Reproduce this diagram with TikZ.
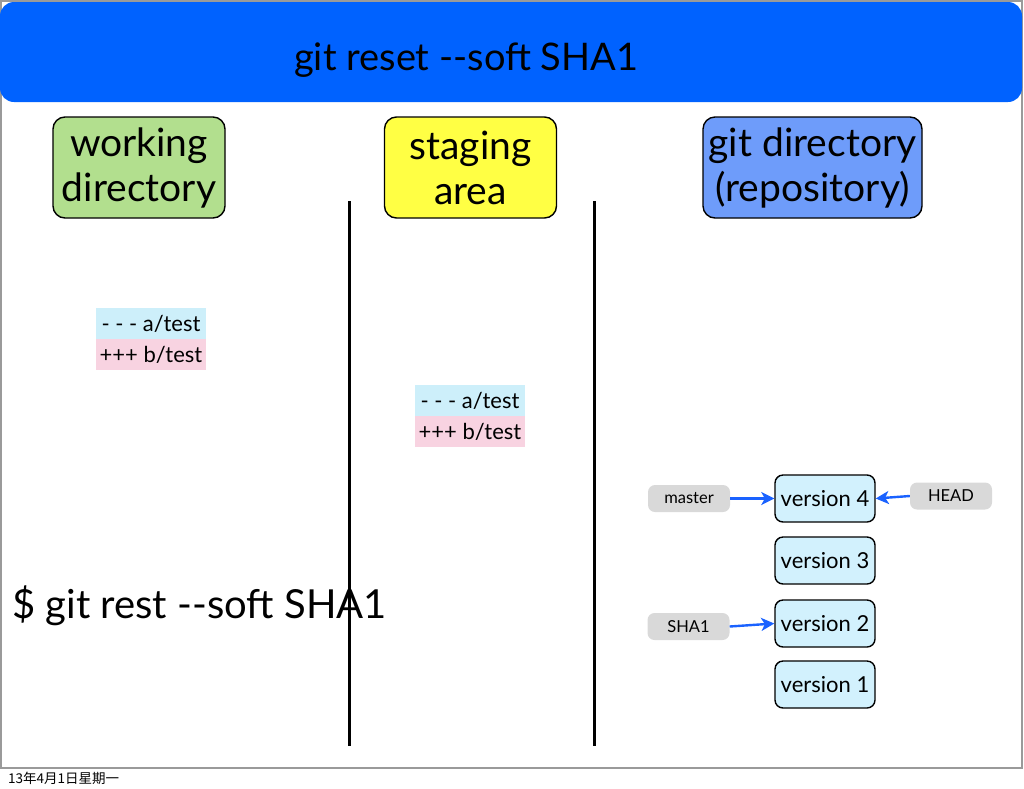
\documentclass[tikz,border=0pt]{standalone}
\usepackage{fontspec}
\setmainfont{Lato}
\newfontfamily\cjkfont{Noto Sans CJK SC}
\usetikzlibrary{arrows.meta}
\definecolor{banner}{HTML}{0062FF}
\definecolor{wdgreen}{HTML}{B2DF8E}
\definecolor{styellow}{HTML}{FFFF44}
\definecolor{gitblue}{HTML}{6E9CFA}
\definecolor{verfill}{HTML}{D2F1FD}
\definecolor{difcyan}{HTML}{CDEFFA}
\definecolor{difpink}{HTML}{F8D3E1}
\definecolor{refgray}{HTML}{D9D9D9}
\definecolor{arrblue}{HTML}{1A62FF}
\definecolor{framegray}{HTML}{9A9A9A}
\tikzset{
  areabox/.style={draw=black, line width=1.4pt, rounded corners=12pt, minimum width=172pt, minimum height=101pt, inner sep=0pt, align=center, font=\fontsize{39}{45}\selectfont},
  verbox/.style={draw=black, line width=1.4pt, fill=verfill, rounded corners=8pt, minimum width=100pt, minimum height=47pt, inner sep=0pt, font=\fontsize{22}{26}\selectfont},
  refbox/.style={fill=refgray, rounded corners=7pt, minimum width=82pt, minimum height=27pt, inner sep=0pt, font=\fontsize{16.5}{18}\selectfont},
  difline/.style={minimum width=110pt, minimum height=31pt, inner sep=0pt, font=\fontsize{22}{24}\selectfont},
  arr/.style={draw=arrblue, line width=2.4pt, -{Stealth[length=13pt,width=13pt,inset=3.5pt]}},
  divider/.style={line width=3pt, black}
}
\begin{document}
\begin{tikzpicture}[x=1pt,y=-1pt]
\useasboundingbox (0,0) rectangle (1024,788);
% slide frame
\draw[framegray, line width=1.5pt] (1,1) rectangle (1022,768);
% banner
\node[fill=banner, rounded corners=14pt, minimum width=1022pt, minimum height=100pt, inner sep=0pt] (banner) at (511,52) {};
\node[font=\fontsize{38}{44}\selectfont, anchor=base west, inner sep=0pt] (title) at (294,70) {git reset -{}-soft SHA1};
% area boxes
\node[areabox, fill=wdgreen] (wd) at (139,167.5) {working\\directory};
\node[areabox, fill=styellow] (st) at (470.5,167.5) {staging\\area};
\node[areabox, fill=gitblue, minimum width=219pt] (gd) at (812.5,167.5) {git directory\\(repository)};
% command
\node[font=\fontsize{40}{46}\selectfont, anchor=base west, inner sep=0pt] (cmd) at (12,618) {\$ git rest -{}-soft SHA1};
% dividers
\coordinate (d1t) at (349,201); \coordinate (d1b) at (349,746);
\coordinate (d2t) at (594,201); \coordinate (d2b) at (594,746);
\draw[divider] (d1t) -- (d1b);
\draw[divider] (d2t) -- (d2b);
% diffs
\node[difline, fill=difcyan] (wa) at (151,323.5) {- - - a/test};
\node[difline, fill=difpink] (wb) at (151,354.5) {+++ b/test};
\node[difline, fill=difcyan] (sa) at (470,400.5) {- - - a/test};
\node[difline, fill=difpink] (sb) at (470,431.5) {+++ b/test};
% versions
\node[verbox] (v4) at (825,498.5) {version 4};
\node[verbox] (v3) at (825,560.5) {version 3};
\node[verbox] (v2) at (825,623.5) {version 2};
\node[verbox] (v1) at (825,684.5) {version 1};
% refs
\node[refbox] (master) at (689,498.5) {master};
\node[refbox] (head) at (951,496) {HEAD};
\node[refbox] (sha) at (688.5,626.5) {SHA1};
\draw[arr] (master.east) -- (v4.west);
\draw[arr] (head.west) -- (v4.east);
\draw[arr] (sha.east) -- (v2.west);
% footer
\node[font=\cjkfont\fontsize{13.5}{15}\selectfont, anchor=base west, inner sep=0pt] (foot) at (8,783) {13年4月1日星期一};
\end{tikzpicture}
\end{document}
